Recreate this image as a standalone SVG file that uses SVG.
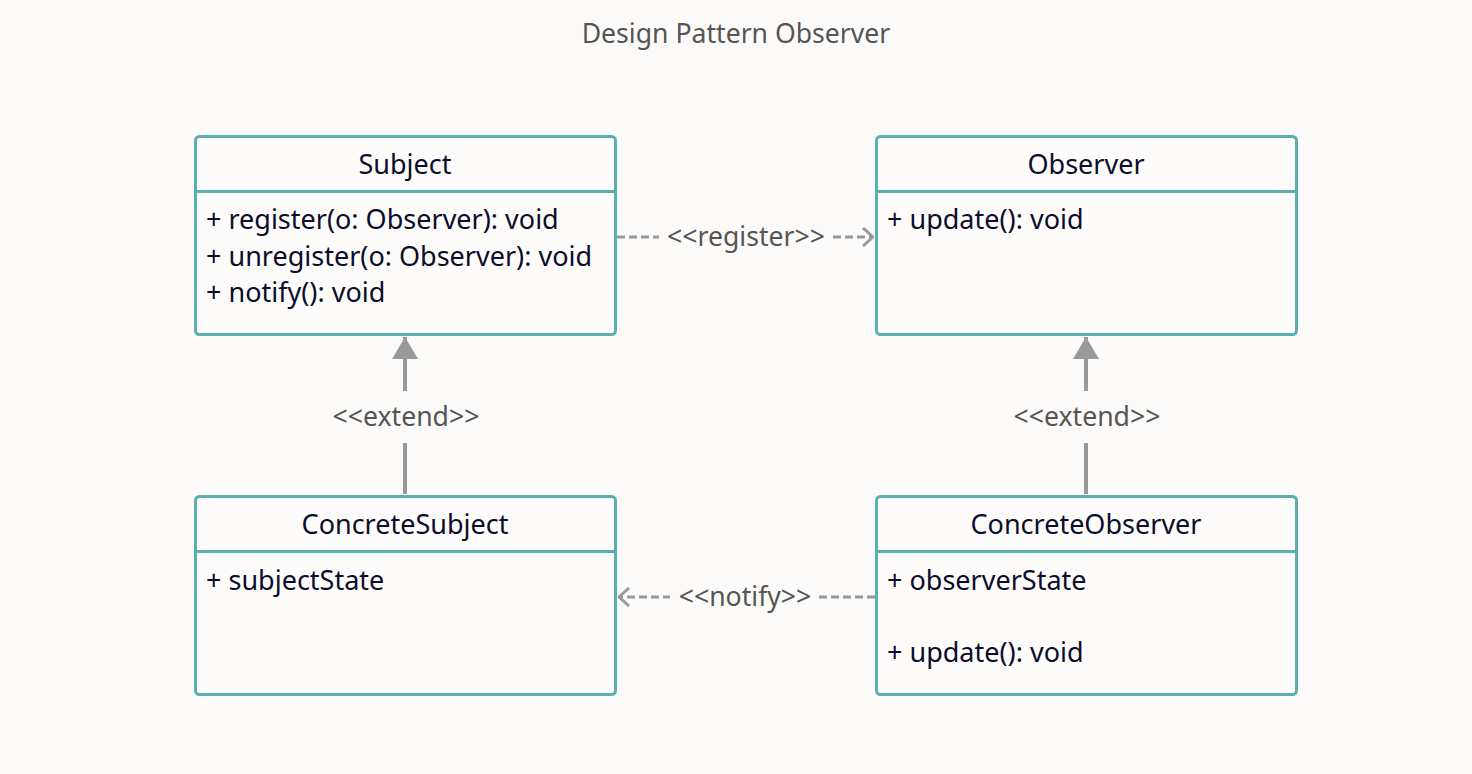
<svg xmlns="http://www.w3.org/2000/svg" width="1472" height="774" viewBox="0 0 1472 774">
<defs>
<style>
.box{fill:#fdfcfb;stroke:#5aafb0;stroke-width:3}
.div{stroke:#5aafb0;stroke-width:3}
.t{font-family:"Noto Sans","Open Sans",sans-serif;font-size:27px;fill:#0b0d2b}
.h{text-anchor:middle}
.lbl{font-family:"Noto Sans","Open Sans",sans-serif;font-size:26.6px;fill:#555;text-anchor:middle}
.dash{stroke:#999;stroke-width:3;fill:none;stroke-dasharray:8,4}
.solid{stroke:#999;stroke-width:4;fill:none}
</style>
<marker id="open" viewBox="0 0 12 20" refX="11" refY="10" markerWidth="12" markerHeight="20" markerUnits="userSpaceOnUse" orient="auto">
<path d="M1,1 L11,10 L1,19" fill="none" stroke="#999" stroke-width="3"/>
</marker>
<marker id="tri" viewBox="0 0 22 26" refX="22" refY="13" markerWidth="22" markerHeight="26" markerUnits="userSpaceOnUse" orient="auto">
<path d="M0,0 L22,13 L0,26 Z" fill="#999"/>
</marker>
</defs>
<rect width="1472" height="774" fill="#fcfbf9"/>
<text x="736" y="43" class="lbl">Design Pattern Observer</text>

<g id="connectors">
<path class="dash" d="M617,237 L873,237" marker-end="url(#open)"/>
<path class="dash" d="M875,597 L619,597" marker-end="url(#open)"/>
<path class="solid" d="M405,494 L405,337" marker-end="url(#tri)"/>
<path class="solid" d="M1086,494 L1086,337" marker-end="url(#tri)"/>
</g>
<g id="labels">
<rect x="659" y="222" width="173" height="30" fill="#fcfbf9"/>
<text x="746" y="246" class="lbl">&lt;&lt;register&gt;&gt;</text>
<rect x="670" y="582" width="148" height="30" fill="#fcfbf9"/>
<text x="745" y="606" class="lbl">&lt;&lt;notify&gt;&gt;</text>
<rect x="325" y="391" width="160" height="52" fill="#fcfbf9"/>
<text x="406" y="426" class="lbl">&lt;&lt;extend&gt;&gt;</text>
<rect x="1006" y="391" width="160" height="52" fill="#fcfbf9"/>
<text x="1087" y="426" class="lbl">&lt;&lt;extend&gt;&gt;</text>
</g>

<g id="subject">
<rect class="box" x="195.5" y="136.5" width="420" height="198" rx="4"/>
<line class="div" x1="195.5" y1="191.5" x2="615.5" y2="191.5"/>
<text x="405" y="174" class="t h">Subject</text>
<text x="206" y="229" class="t">+ register(o: Observer): void</text>
<text x="206" y="266" class="t">+ unregister(o: Observer): void</text>
<text x="206" y="302" class="t">+ notify(): void</text>
</g>
<g id="observer">
<rect class="box" x="876.5" y="136.5" width="420" height="198" rx="4"/>
<line class="div" x1="876.5" y1="191.5" x2="1296.5" y2="191.5"/>
<text x="1086" y="174" class="t h">Observer</text>
<text x="887" y="229" class="t">+ update(): void</text>
</g>
<g id="concreteSubject">
<rect class="box" x="195.5" y="496.5" width="420" height="198" rx="4"/>
<line class="div" x1="195.5" y1="551.5" x2="615.5" y2="551.5"/>
<text x="405" y="534" class="t h">ConcreteSubject</text>
<text x="206" y="590" class="t">+ subjectState</text>
</g>
<g id="concreteObserver">
<rect class="box" x="876.5" y="496.5" width="420" height="198" rx="4"/>
<line class="div" x1="876.5" y1="551.5" x2="1296.5" y2="551.5"/>
<text x="1086" y="534" class="t h">ConcreteObserver</text>
<text x="887" y="590" class="t">+ observerState</text>
<text x="887" y="662" class="t">+ update(): void</text>
</g>
</svg>
